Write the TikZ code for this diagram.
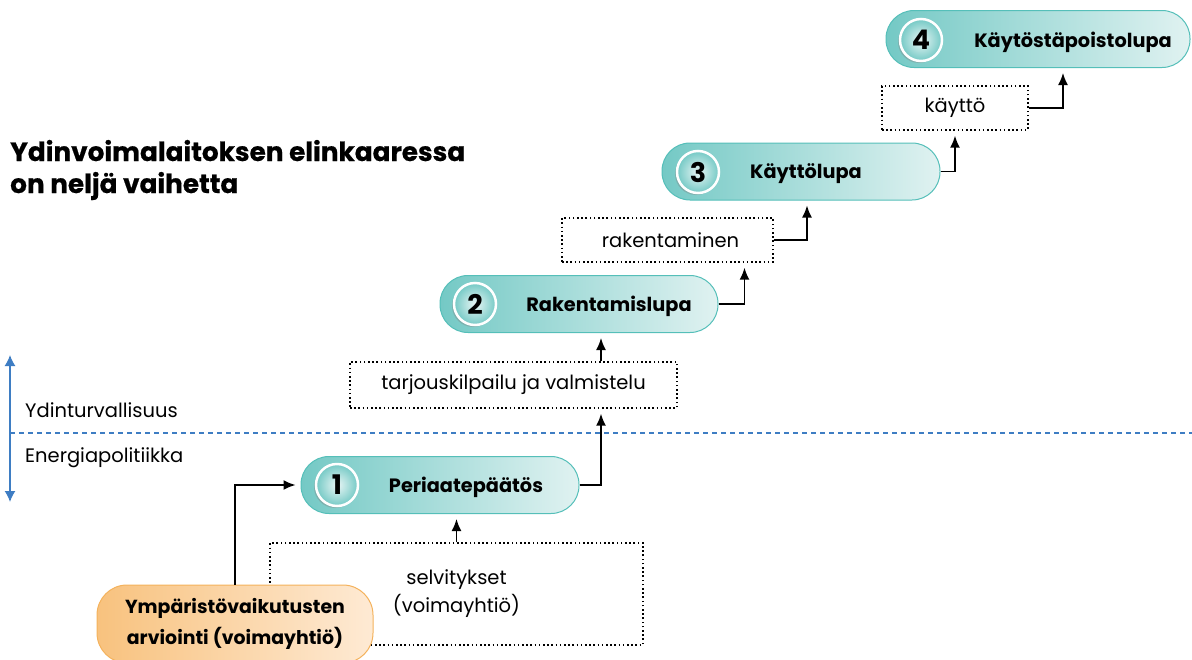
\documentclass[tikz,border=0pt]{standalone}
\usepackage{fontspec}
\setmainfont{Poppins}
\newfontfamily\paksu{Poppins}[BoldFeatures={FakeBold=0.6}]
\usetikzlibrary{arrows.meta,shadows}

\definecolor{tealdark}{HTML}{74C9C5}
\definecolor{teallight}{HTML}{E0F2F1}
\definecolor{tealline}{HTML}{55BFB9}
\definecolor{orangedark}{HTML}{F8C27E}
\definecolor{orangelight}{HTML}{FEEAD4}
\definecolor{orangeline}{HTML}{F4B25C}
\definecolor{lineblue}{HTML}{3E7DC3}

\tikzset{
	lupa/.style={draw=tealline, line width=1pt, left color=tealdark, right color=teallight, rounded corners=28pt, minimum width=278pt, minimum height=57pt, inner sep=0pt},
	numero/.style={circle, draw=white, line width=2.5pt, minimum size=42pt, inner sep=0pt, inner color=teallight!70!white, outer color=tealdark, font=\bfseries\fontsize{27}{27}\selectfont, drop shadow={shadow xshift=-2pt, shadow yshift=-2pt, opacity=0.35}},
	lupateksti/.style={font=\bfseries\fontsize{19.3}{21}\selectfont},
	vaihe/.style={draw, line width=1.4pt, dash pattern=on 1.6pt off 2.6pt, inner sep=0pt, font=\fontsize{19.5}{28}\selectfont, align=center},
	nuoli/.style={-{Latex[length=12pt,width=10pt]}, line width=1.6pt, shorten >=5pt},
}

\begin{document}
\begin{tikzpicture}[x=1pt, y=-1pt]
	\useasboundingbox (0,0) rectangle (1192,659);

	% otsikko ja tasot
	\node[anchor=base west, font=\paksu\bfseries\fontsize{26.3}{32}\selectfont, align=left, inner sep=0pt] (otsikko) at (10,193) {Ydinvoimalaitoksen elinkaaressa\\on neljä vaihetta};
	\node[anchor=base west, inner sep=0pt, font=\fontsize{19.5}{20}\selectfont] (turva) at (25,417) {Ydinturvallisuus};
	\node[anchor=base west, inner sep=0pt, font=\fontsize{19.5}{20}\selectfont] (energia) at (25,462) {Energiapolitiikka};
	\coordinate (yla) at (10,355);
	\coordinate (ala) at (10,502);
	\coordinate (raja1) at (10,433);
	\coordinate (raja2) at (1192,433);
	\draw[{Latex[length=11pt,width=11pt]}-{Latex[length=11pt,width=11pt]}, lineblue, line width=1.5pt] (yla) -- (ala);
	\draw[lineblue, line width=1.3pt, dash pattern=on 5pt off 4pt] (raja1) -- (raja2);

	% vaiheiden välit
	\node[vaihe, minimum width=146pt, minimum height=44pt] (kaytto) at (955,108) {käyttö};
	\node[vaihe, minimum width=211pt, minimum height=44pt] (rak) at (667.5,240) {\hspace*{6pt}rakentaminen};
	\node[vaihe, minimum width=327pt, minimum height=46pt] (tarj) at (513.5,385) {tarjouskilpailu ja valmistelu};
	\node[vaihe, minimum width=373pt, minimum height=102pt] (selv) at (456.5,594) {selvitykset\\(voimayhtiö)};

	% luvat
	\node[lupa, minimum width=304pt] (lupa4) at (1038,39) {};
	\node[lupa] (lupa3) at (801,171.5) {};
	\node[lupa] (lupa2) at (579,304) {};
	\node[lupa] (lupa1) at (440,485) {};
	\node[numero] (num4) at (921,40) {4};
	\node[numero] (num3) at (698,172) {3};
	\node[numero] (num2) at (475,304) {2};
	\node[numero] (num1) at (337,485) {1};
	\node[lupateksti] (teksti4) at (1073,42) {Käytöstäpoistolupa};
	\node[lupateksti] (teksti3) at (806,174) {Käyttölupa};
	\node[lupateksti] (teksti2) at (609,306) {Rakentamislupa};
	\node[lupateksti] (teksti1) at (466,487) {Periaatepäätös};

	\node[draw=orangeline, line width=1pt, left color=orangedark, right color=orangelight, rounded corners=30pt, minimum width=276pt, minimum height=78pt, align=center, font=\bfseries\fontsize{18.9}{31}\selectfont] (ymp) at (235,624) {Ympäristövaikutusten\\arviointi (voimayhtiö)};

	% nuolet
	\coordinate (p2) at (601,0);
	\draw[nuoli] (kaytto.east) -| ([xshift=25]lupa4.south);
	\draw[nuoli] (lupa3.east) -| (kaytto.south);
	\draw[nuoli] (rak.east) -| ([xshift=6]lupa3.south);
	\draw[nuoli] (lupa2.east) -| ([xshift=77]rak.south);
	\draw[nuoli] (tarj.north -| p2) -- (lupa2.south -| p2);
	\draw[nuoli] (lupa1.east) -| (tarj.south -| p2);
	\draw[nuoli] (selv.north) -- (selv.north |- lupa1.south);
	\draw[nuoli] (ymp.north) |- (lupa1.west);
\end{tikzpicture}
\end{document}
